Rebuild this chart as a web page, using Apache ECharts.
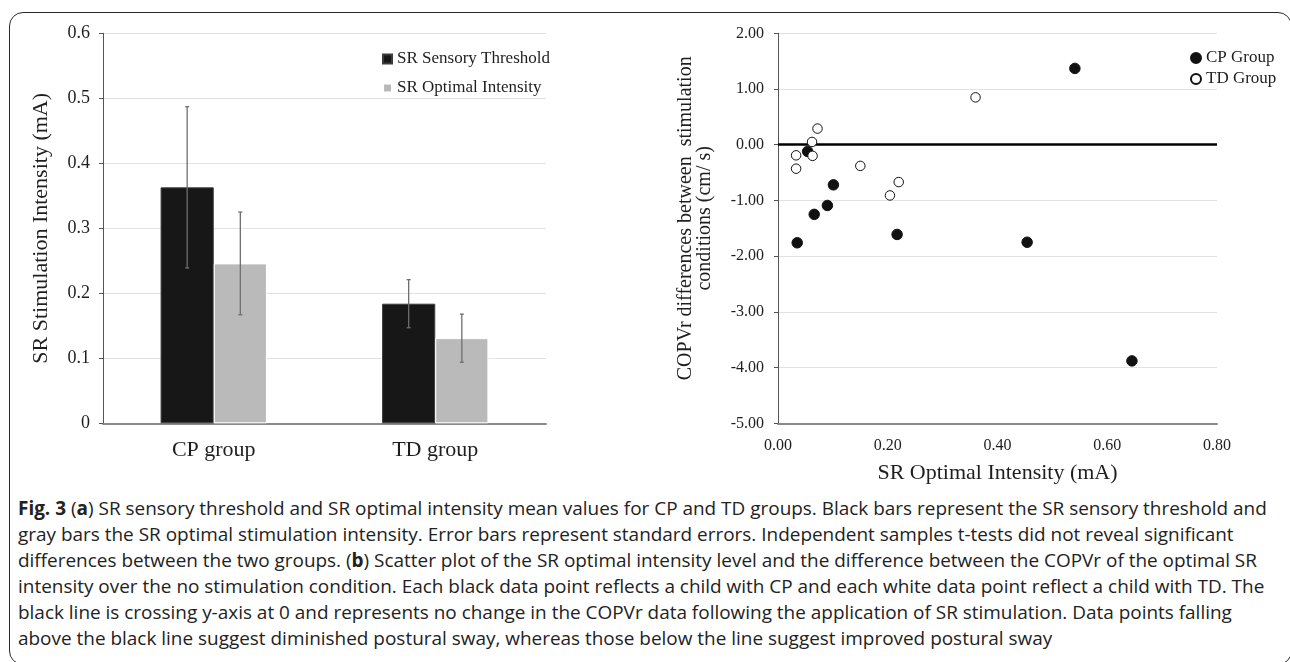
<!DOCTYPE html>
<html>
<head>
<meta charset="utf-8">
<script src="https://cdn.jsdelivr.net/npm/echarts@6/dist/echarts.min.js"></script>
<style>
  html, body { margin: 0; padding: 0; background: #fff; width: 1290px; height: 662px; overflow: hidden; }
  #frame { position: absolute; left: 9px; top: 12px; width: 1283px; height: 653px; border: 1.5px solid #2a2a2a; border-radius: 14px; box-sizing: border-box; }
  #chart { position: absolute; left: 0; top: 0; width: 1290px; height: 490px; }
  #caption { position: absolute; left: 18px; top: 495px; font-family: "Open Sans", sans-serif; font-size: 16px; color: #222; white-space: nowrap; }
  #caption div { height: 26px; line-height: 26px; }
  #caption b { font-weight: 700; }
</style>
</head>
<body>
<div id="frame"></div>
<div id="chart"></div>
<div id="caption">
  <div id="cap1"><b>Fig. 3</b> (<b>a</b>) SR sensory threshold and SR optimal intensity mean values for CP and TD groups. Black bars represent the SR sensory threshold and</div>
  <div>gray bars the SR optimal stimulation intensity. Error bars represent standard errors. Independent samples t-tests did not reveal significant</div>
  <div>differences between the two groups. (<b>b</b>) Scatter plot of the SR optimal intensity level and the difference between the COPVr of the optimal SR</div>
  <div>intensity over the no stimulation condition. Each black data point reflects a child with CP and each white data point reflect a child with TD. The</div>
  <div>black line is crossing y-axis at 0 and represents no change in the COPVr data following the application of SR stimulation. Data points falling</div>
  <div>above the black line suggest diminished postural sway, whereas those below the line suggest improved postural sway</div>
</div>
<script>
// ---- Panel (a) data ----
const categories = ['CP group', 'TD group'];
const thresholdMean = [0.363, 0.184];
const thresholdErr = [0.124, 0.037];
const optimalMean = [0.246, 0.131];
const optimalErr = [0.079, 0.037];
const barTicks = [0, 0.1, 0.2, 0.3, 0.4, 0.5, 0.6];

// ---- Panel (b) data ----
const cpX = [0.541, 0.054, 0.101, 0.090, 0.066, 0.035, 0.217, 0.454, 0.645];
const cpY = [1.37, -0.12, -0.72, -1.09, -1.25, -1.76, -1.61, -1.75, -3.88];
const tdX = [0.360, 0.072, 0.062, 0.033, 0.063, 0.033, 0.150, 0.220, 0.204];
const tdY = [0.85, 0.29, 0.05, -0.19, -0.20, -0.43, -0.38, -0.67, -0.91];
const scatterYTicks = [-5, -4, -3, -2, -1, 0, 1, 2];
const scatterXTicks = [0, 0.2, 0.4, 0.6, 0.8];

const serif = '"Liberation Serif", "Times New Roman", serif';
const txt = '#1e1e1e';
const gridColor = '#e2e2e2';
const GAP = 0.52;

const errThreshold = categories.map((c, i) => [i, thresholdMean[i], thresholdErr[i]]);
const errOptimal = categories.map((c, i) => [i, optimalMean[i], optimalErr[i]]);

function errorRenderer(side) {
  return function (params, api) {
    const idx = api.value(0), v = api.value(1), e = api.value(2);
    const c = api.coord([idx, v]);
    const band = api.size([1, 0])[0];
    const barW = band * (1 - GAP) / 2;
    const x = c[0] + side * barW / 2;
    const yt = api.coord([idx, v + e])[1];
    const yb = api.coord([idx, v - e])[1];
    const st = { stroke: '#6e6e6e', lineWidth: 1.3 };
    return { type: 'group', children: [
      { type: 'line', shape: { x1: x, y1: yt, x2: x, y2: yb }, style: st },
      { type: 'line', shape: { x1: x - 2, y1: yt, x2: x + 2, y2: yt }, style: st },
      { type: 'line', shape: { x1: x - 2, y1: yb, x2: x + 2, y2: yb }, style: st }
    ]};
  };
}

const chart = echarts.init(document.getElementById('chart'), null, { renderer: 'canvas' });
chart.setOption({
  animation: false,
  textStyle: { fontFamily: serif, color: txt },
  grid: [
    { left: 103, top: 33.3, width: 443, height: 390 },
    { left: 778, top: 33.3, width: 439, height: 390 }
  ],
  legend: [
    {
      data: ['SR Sensory Threshold', 'SR Optimal Intensity'],
      left: 377, top: 45.5, orient: 'vertical', icon: 'rect',
      itemWidth: 9, itemHeight: 9, itemGap: 12,
      textStyle: { fontFamily: serif, fontSize: 17, lineHeight: 17, color: txt }
    },
    {
      data: ['CP Group', 'TD Group'],
      left: 1185, top: 44.5, orient: 'vertical', icon: 'circle',
      itemWidth: 10, itemHeight: 10, itemGap: 4,
      textStyle: { fontFamily: serif, fontSize: 17, lineHeight: 17, color: txt }
    }
  ],
  xAxis: [
    {
      gridIndex: 0, type: 'category', data: categories,
      axisLine: { lineStyle: { color: '#8a8a8a', width: 2 } },
      axisTick: { show: false },
      axisLabel: { fontFamily: serif, fontSize: 22, color: txt, margin: 16 },
      splitLine: { show: false }
    },
    {
      gridIndex: 1, type: 'value', min: scatterXTicks[0], max: scatterXTicks[scatterXTicks.length - 1], interval: 0.2,
      name: 'SR Optimal Intensity (mA)', nameLocation: 'middle', nameGap: 39,
      nameTextStyle: { fontFamily: serif, fontSize: 22, color: txt },
      axisLine: { onZero: false, lineStyle: { color: '#8a8a8a', width: 2 } },
      axisTick: { show: false },
      axisLabel: { fontFamily: serif, fontSize: 16, color: txt, margin: 14, formatter: v => v.toFixed(2) },
      splitLine: { show: false }
    }
  ],
  yAxis: [
    {
      gridIndex: 0, type: 'value', min: barTicks[0], max: barTicks[barTicks.length - 1], interval: 0.1,
      name: 'SR Stimulation Intensity (mA)', nameLocation: 'middle', nameGap: 51,
      nameTextStyle: { fontFamily: serif, fontSize: 22, color: txt },
      axisLine: { show: true, lineStyle: { color: '#555', width: 1 } },
      axisTick: { show: true, length: 4, lineStyle: { color: '#555' } },
      axisLabel: { fontFamily: serif, fontSize: 18, color: txt, margin: 13 },
      splitLine: { lineStyle: { color: gridColor, width: 1 } }
    },
    {
      gridIndex: 1, type: 'value', min: scatterYTicks[0], max: scatterYTicks[scatterYTicks.length - 1], interval: 1,
      name: 'COPVr differences between  stimulation\nconditions (cm/ s)', nameLocation: 'middle', nameGap: 64,
      nameTextStyle: { fontFamily: serif, fontSize: 20, lineHeight: 19, color: txt, padding: [0, 0, 0, 20] },
      axisLine: { show: true, onZero: false, lineStyle: { color: '#555', width: 1 } },
      axisTick: { show: true, length: 4, lineStyle: { color: '#555' } },
      axisLabel: { fontFamily: serif, fontSize: 16, color: txt, margin: 14, formatter: v => v.toFixed(2) },
      splitLine: { lineStyle: { color: gridColor, width: 1 } }
    }
  ],
  series: [
    {
      name: 'SR Sensory Threshold', type: 'bar', xAxisIndex: 0, yAxisIndex: 0,
      data: thresholdMean, barGap: '0%', barCategoryGap: (GAP * 100) + '%',
      itemStyle: { color: '#171717', borderColor: '#3c3c3c', borderWidth: 1 }
    },
    {
      name: 'SR Optimal Intensity', type: 'bar', xAxisIndex: 0, yAxisIndex: 0,
      data: optimalMean, barGap: '0%', barCategoryGap: (GAP * 100) + '%',
      itemStyle: { color: '#bababa', borderColor: '#ffffff', borderWidth: 1 }
    },
    {
      type: 'custom', xAxisIndex: 0, yAxisIndex: 0, z: 10,
      renderItem: errorRenderer(-1), data: errThreshold, encode: { x: 0, y: 1 }
    },
    {
      type: 'custom', xAxisIndex: 0, yAxisIndex: 0, z: 10,
      renderItem: errorRenderer(1), data: errOptimal, encode: { x: 0, y: 1 }
    },
    {
      name: 'CP Group', type: 'scatter', xAxisIndex: 1, yAxisIndex: 1, z: 5,
      symbol: 'circle', symbolSize: 10.5,
      itemStyle: { color: '#111', borderColor: '#111', borderWidth: 1, opacity: 1 },
      data: cpX.map((x, i) => [x, cpY[i]]),
      markLine: {
        silent: true, symbol: 'none', label: { show: false },
        lineStyle: { color: '#000', width: 2.5, type: 'solid' },
        data: [{ yAxis: 0 }]
      }
    },
    {
      name: 'TD Group', type: 'scatter', xAxisIndex: 1, yAxisIndex: 1, z: 6,
      symbol: 'circle', symbolSize: 9.5,
      itemStyle: { color: '#fff', borderColor: '#111', borderWidth: 1, opacity: 1 },
      data: tdX.map((x, i) => [x, tdY[i]])
    }
  ]
});

// fit caption width so the first line spans the same width as in the figure
(function () {
  const line = document.getElementById('cap1');
  const span = document.createElement('span');
  span.innerHTML = line.innerHTML;
  span.style.whiteSpace = 'nowrap';
  line.innerHTML = '';
  line.appendChild(span);
  const w = span.getBoundingClientRect().width;
  const target = 1250;
  const fs = 16 * target / w;
  document.getElementById('caption').style.fontSize = fs.toFixed(2) + 'px';
})();
</script>
</body>
</html>
